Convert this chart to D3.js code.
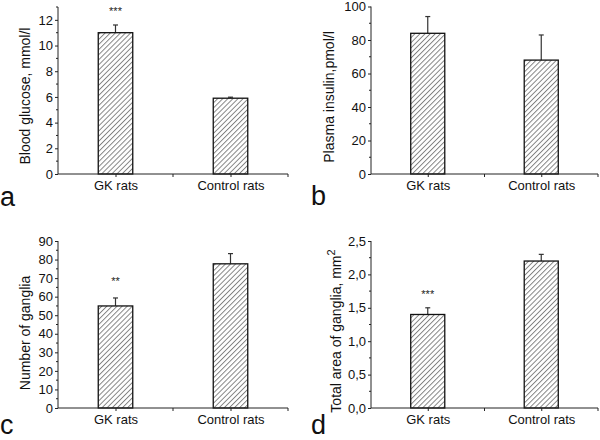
<!DOCTYPE html>
<html><head><meta charset="utf-8">
<script src="https://cdn.jsdelivr.net/npm/d3@7"></script>
<style>
body{margin:0;background:#fff;}
svg{display:block;font-family:"Liberation Sans",Arial,sans-serif;}
</style></head>
<body>
<svg id="c" width="600" height="440"></svg>
<script>
// ---- data ----
const categories = ["GK rats", "Control rats"];
const glucose = [11.0, 5.9];
const glucoseErr = [0.6, 0.08];
const insulin = [84, 68];
const insulinErr = [10, 15];
const ganglia = [55, 77.7];
const gangliaErr = [4.3, 5.5];
const area = [1.4, 2.2];
const areaErr = [0.1, 0.1];
const starsA = ["***", ""];
const starsB = ["", ""];
const starsC = ["**", ""];
const starsD = ["***", ""];
const starsPosA = [12.75, null];
const starsPosC = [69, null];
const starsPosD = [1.72, null];
const ticksA = [0, 2, 4, 6, 8, 10, 12];
const ticksB = [0, 20, 40, 60, 80, 100];
const ticksC = [0, 10, 20, 30, 40, 50, 60, 70, 80, 90];
const ticksD = [0, 0.5, 1.0, 1.5, 2.0, 2.5];
const titleA = "Blood glucose, mmol/l";
const titleB = "Plasma insulin,pmol/l";
const titleC = "Number of ganglia";
const titleD = ["Total area of ganglia, mm", "2"];
const panelLetters = ["a", "b", "c", "d"];

const svg = d3.select("#c");
const defs = svg.append("defs");
const pat = defs.append("pattern").attr("id", "hatch")
  .attr("patternUnits", "userSpaceOnUse").attr("width", 3.6).attr("height", 3.6)
  .attr("patternTransform", "rotate(45)");
pat.append("rect").attr("width", 3.6).attr("height", 3.6).attr("fill", "#fff");
pat.append("line").attr("x1", 0.5).attr("y1", 0).attr("x2", 0.5).attr("y2", 3.6)
  .attr("stroke", "#7a7a7a").attr("stroke-width", 0.9);

const AX = "#222";

function panel(cfg) {
  const g = svg.append("g");
  const x = d3.scaleLinear().domain([0.5, 2.5]).range([cfg.x0, cfg.x1]);
  const y = d3.scaleLinear().domain(cfg.domain).range([cfg.yBot, cfg.yTop]);
  const barW = x(1.3) - x(1);

  cfg.values.forEach((v, i) => {
    const cx = x(i + 1);
    g.append("line").attr("x1", cx).attr("x2", cx)
      .attr("y1", y(v)).attr("y2", y(v + cfg.err[i]))
      .attr("stroke", "#333").attr("stroke-width", 1.2);
    g.append("line").attr("x1", cx - 2.5).attr("x2", cx + 2.5)
      .attr("y1", y(v + cfg.err[i])).attr("y2", y(v + cfg.err[i]))
      .attr("stroke", "#333").attr("stroke-width", 1.2);
    g.append("rect").attr("x", cx - barW / 2).attr("y", y(v))
      .attr("width", barW).attr("height", y(cfg.domain[0]) - y(v))
      .attr("fill", "url(#hatch)").attr("stroke", "#111").attr("stroke-width", 1.3);
    if (cfg.stars[i]) {
      g.append("text").attr("x", cx).attr("y", y(cfg.starsPos[i]) + 5)
        .attr("text-anchor", "middle").attr("font-size", 11).attr("fill", "#222")
        .text(cfg.stars[i]);
    }
  });

  const ya = d3.axisLeft(y).tickValues(cfg.ticks).tickSize(3).tickPadding(2)
    .tickFormat(cfg.fmt);
  const yg = g.append("g").attr("transform", `translate(${cfg.x0},0)`).call(ya);
  yg.select(".domain").attr("stroke", AX).attr("d", `M0,${cfg.yTop}V${cfg.yBot}`);
  yg.selectAll(".tick line").attr("stroke", AX);
  yg.selectAll("text").attr("font-size", 13).attr("fill", "#111")
    .attr("font-family", "Liberation Sans, Arial, sans-serif");
  const minors = d3.range(cfg.domain[0], cfg.domain[1] + 1e-9, cfg.minor)
    .filter(v => !cfg.ticks.some(t => Math.abs(t - v) < 1e-9));
  g.selectAll(null).data(minors).enter().append("line")
    .attr("x1", cfg.x0 - 2).attr("x2", cfg.x0).attr("y1", d => y(d)).attr("y2", d => y(d))
    .attr("stroke", AX);

  const xa = d3.axisBottom(x).tickValues([1, 2]).tickSize(3).tickPadding(4)
    .tickFormat((d, i) => categories[i]);
  const xg = g.append("g").attr("transform", `translate(0,${cfg.yBot})`).call(xa);
  xg.select(".domain").attr("stroke", AX).attr("d", `M${cfg.x0},0H${cfg.x1}`);
  xg.selectAll(".tick line").attr("stroke", AX);
  xg.selectAll("text").attr("font-size", 13).attr("fill", "#111")
    .attr("font-family", "Liberation Sans, Arial, sans-serif");
  g.selectAll(null).data([1.5, 2.5]).enter().append("line")
    .attr("x1", d => x(d)).attr("x2", d => x(d)).attr("y1", cfg.yBot).attr("y2", cfg.yBot + 3)
    .attr("stroke", AX);

  const t = g.append("text")
    .attr("transform", `translate(${cfg.titleX},${cfg.titleY}) rotate(-90)`)
    .attr("text-anchor", "middle").attr("font-size", 14).attr("fill", "#111");
  if (Array.isArray(cfg.title)) {
    t.append("tspan").text(cfg.title[0]);
    t.append("tspan").attr("dy", -6).attr("font-size", 11).text(cfg.title[1]);
  } else {
    t.text(cfg.title);
  }

  g.append("text").attr("x", cfg.letterX).attr("y", cfg.letterY)
    .attr("font-size", 27).attr("fill", "#111").text(cfg.letter);
}

const fmt0 = d3.format("d");
const fmtComma = d => d3.format(".1f")(d).replace(".", ",");

panel({x0: 58, x1: 288, yTop: 7, yBot: 174, domain: [0, 13], ticks: ticksA, minor: 1, fmt: fmt0,
  values: glucose, err: glucoseErr, stars: starsA, starsPos: starsPosA,
  title: titleA, titleX: 30, titleY: 96, letter: panelLetters[0], letterX: 0, letterY: 206});
panel({x0: 371, x1: 598, yTop: 6.5, yBot: 174, domain: [0, 100], ticks: ticksB, minor: 10, fmt: fmt0,
  values: insulin, err: insulinErr, stars: starsB, starsPos: [null, null],
  title: titleB, titleX: 334, titleY: 97, letter: panelLetters[1], letterX: 311, letterY: 205});
panel({x0: 58, x1: 288, yTop: 241, yBot: 408, domain: [0, 90], ticks: ticksC, minor: 5, fmt: fmt0,
  values: ganglia, err: gangliaErr, stars: starsC, starsPos: starsPosC,
  title: titleC, titleX: 30, titleY: 333, letter: panelLetters[2], letterX: 0, letterY: 434});
panel({x0: 371, x1: 598, yTop: 241, yBot: 408, domain: [0, 2.5], ticks: ticksD, minor: 0.25, fmt: fmtComma,
  values: area, err: areaErr, stars: starsD, starsPos: starsPosD,
  title: titleD, titleX: 341, titleY: 331, letter: panelLetters[3], letterX: 311, letterY: 434});
</script>
</body></html>
